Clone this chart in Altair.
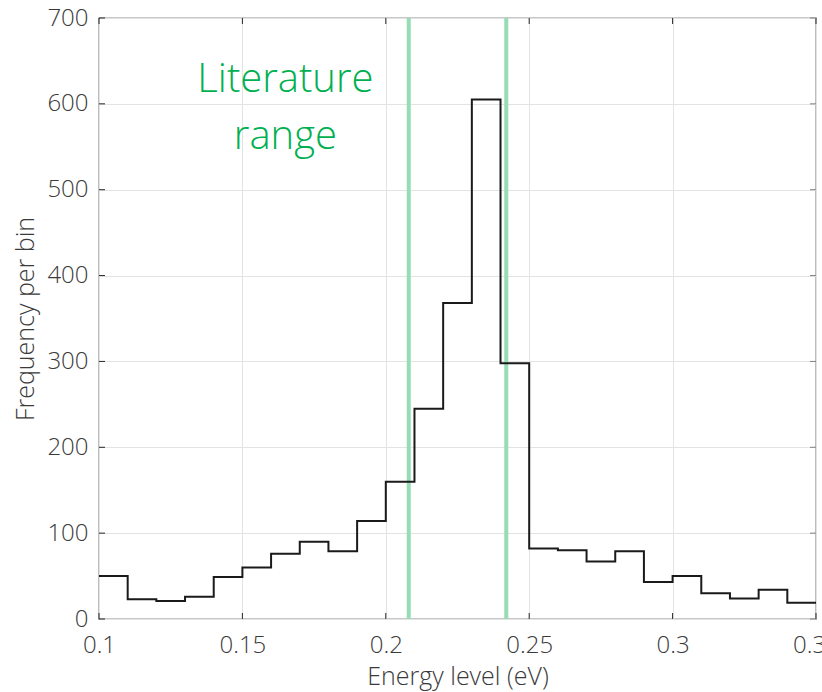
import altair as alt
import pandas as pd

# Histogram bins (left edges) and counts
bin_edges = [0.10, 0.11, 0.12, 0.13, 0.14, 0.15, 0.16, 0.17, 0.18, 0.19,
             0.20, 0.21, 0.22, 0.23, 0.24, 0.25, 0.26, 0.27, 0.28, 0.29,
             0.30, 0.31, 0.32, 0.33, 0.34, 0.35]
counts = [50, 23, 21, 26, 49, 60, 76, 90, 79, 114,
          160, 245, 368, 605, 298, 82, 80, 67, 79, 43,
          50, 30, 24, 34, 19]

lit_range = [0.208, 0.242]
annot_lines = ["Literature", "range"]
annot_x = [0.165, 0.165]
annot_y = [614, 548]

x_ticks = [0.1, 0.15, 0.2, 0.25, 0.3, 0.35]
y_ticks = [0, 100, 200, 300, 400, 500, 600, 700]

W, H = 717, 601
FONT = "Open Sans"
GRAY = "#3a3a3a"

hist_df = pd.DataFrame({"energy": bin_edges, "freq": counts + [counts[-1]]})
lit_df = pd.DataFrame({"energy": lit_range})
annot_df = pd.DataFrame({"energy": annot_x, "freq": annot_y, "label": annot_lines})
xt_df = pd.DataFrame({"energy": x_ticks})
yt_df = pd.DataFrame({"freq": y_ticks})

xscale = alt.Scale(domain=[0.1, 0.35], nice=False, zero=False)
yscale = alt.Scale(domain=[0, 700], nice=False)

xaxis = alt.Axis(values=x_ticks, format="~g", title="Energy level (eV)",
                 grid=True, gridColor="#e3e3e3", ticks=False, domain=False,
                 labelFont=FONT, labelFontSize=24, labelColor=GRAY, labelPadding=14,
                 labelFontWeight=300,
                 titleFont=FONT, titleFontSize=25, titleColor=GRAY, titleFontWeight=300,
                 titlePadding=7, labelFlush=False, labelOverlap=False)
yaxis = alt.Axis(values=y_ticks, title="Frequency per bin",
                 grid=True, gridColor="#e3e3e3", ticks=False, domain=False,
                 labelFont=FONT, labelFontSize=24, labelColor=GRAY, labelPadding=11,
                 labelFontWeight=300,
                 titleFont=FONT, titleFontSize=25, titleColor=GRAY, titleFontWeight=300,
                 titlePadding=8, labelFlush=False, labelOverlap=False)

base_line = alt.Chart(hist_df).mark_line(
    interpolate="step-after", color="#1a1a1a", strokeWidth=2
).encode(
    x=alt.X("energy:Q", scale=xscale, axis=xaxis),
    y=alt.Y("freq:Q", scale=yscale, axis=yaxis),
)

lit_rules = alt.Chart(lit_df).mark_rule(color="#96DDB5", strokeWidth=4).encode(
    x=alt.X("energy:Q", scale=xscale),
    y=alt.value(0),
    y2=alt.value(H),
)

annot = alt.Chart(annot_df).mark_text(
    font=FONT, fontSize=40, fontWeight=300, color="#00B050", align="center",
    baseline="alphabetic"
).encode(
    x=alt.X("energy:Q", scale=xscale),
    y=alt.Y("freq:Q", scale=yscale),
    text="label:N",
)

tick_col = "#262626"
xt_bottom = alt.Chart(xt_df).mark_rule(color=tick_col, strokeWidth=1).encode(
    x=alt.X("energy:Q", scale=xscale), y=alt.value(H), y2=alt.value(H - 6))
xt_top = alt.Chart(xt_df).mark_rule(color=tick_col, strokeWidth=1).encode(
    x=alt.X("energy:Q", scale=xscale), y=alt.value(0), y2=alt.value(6))
yt_left = alt.Chart(yt_df).mark_rule(color=tick_col, strokeWidth=1).encode(
    y=alt.Y("freq:Q", scale=yscale), x=alt.value(0), x2=alt.value(6))
yt_right = alt.Chart(yt_df).mark_rule(color="#808080", strokeWidth=1).encode(
    y=alt.Y("freq:Q", scale=yscale), x=alt.value(W), x2=alt.value(W - 6))

chart = alt.layer(
    lit_rules, xt_bottom, xt_top, yt_left, yt_right, base_line, annot
).properties(
    width=W, height=H,
    autosize=alt.AutoSizeParams(type="none"),
    padding={"left": 99, "top": 18, "right": 6, "bottom": 73},
    background="white",
).configure_view(
    stroke="#262626", strokeWidth=1.2
)

chart.save("out.html", embed_options={"renderer": "svg", "actions": False})
